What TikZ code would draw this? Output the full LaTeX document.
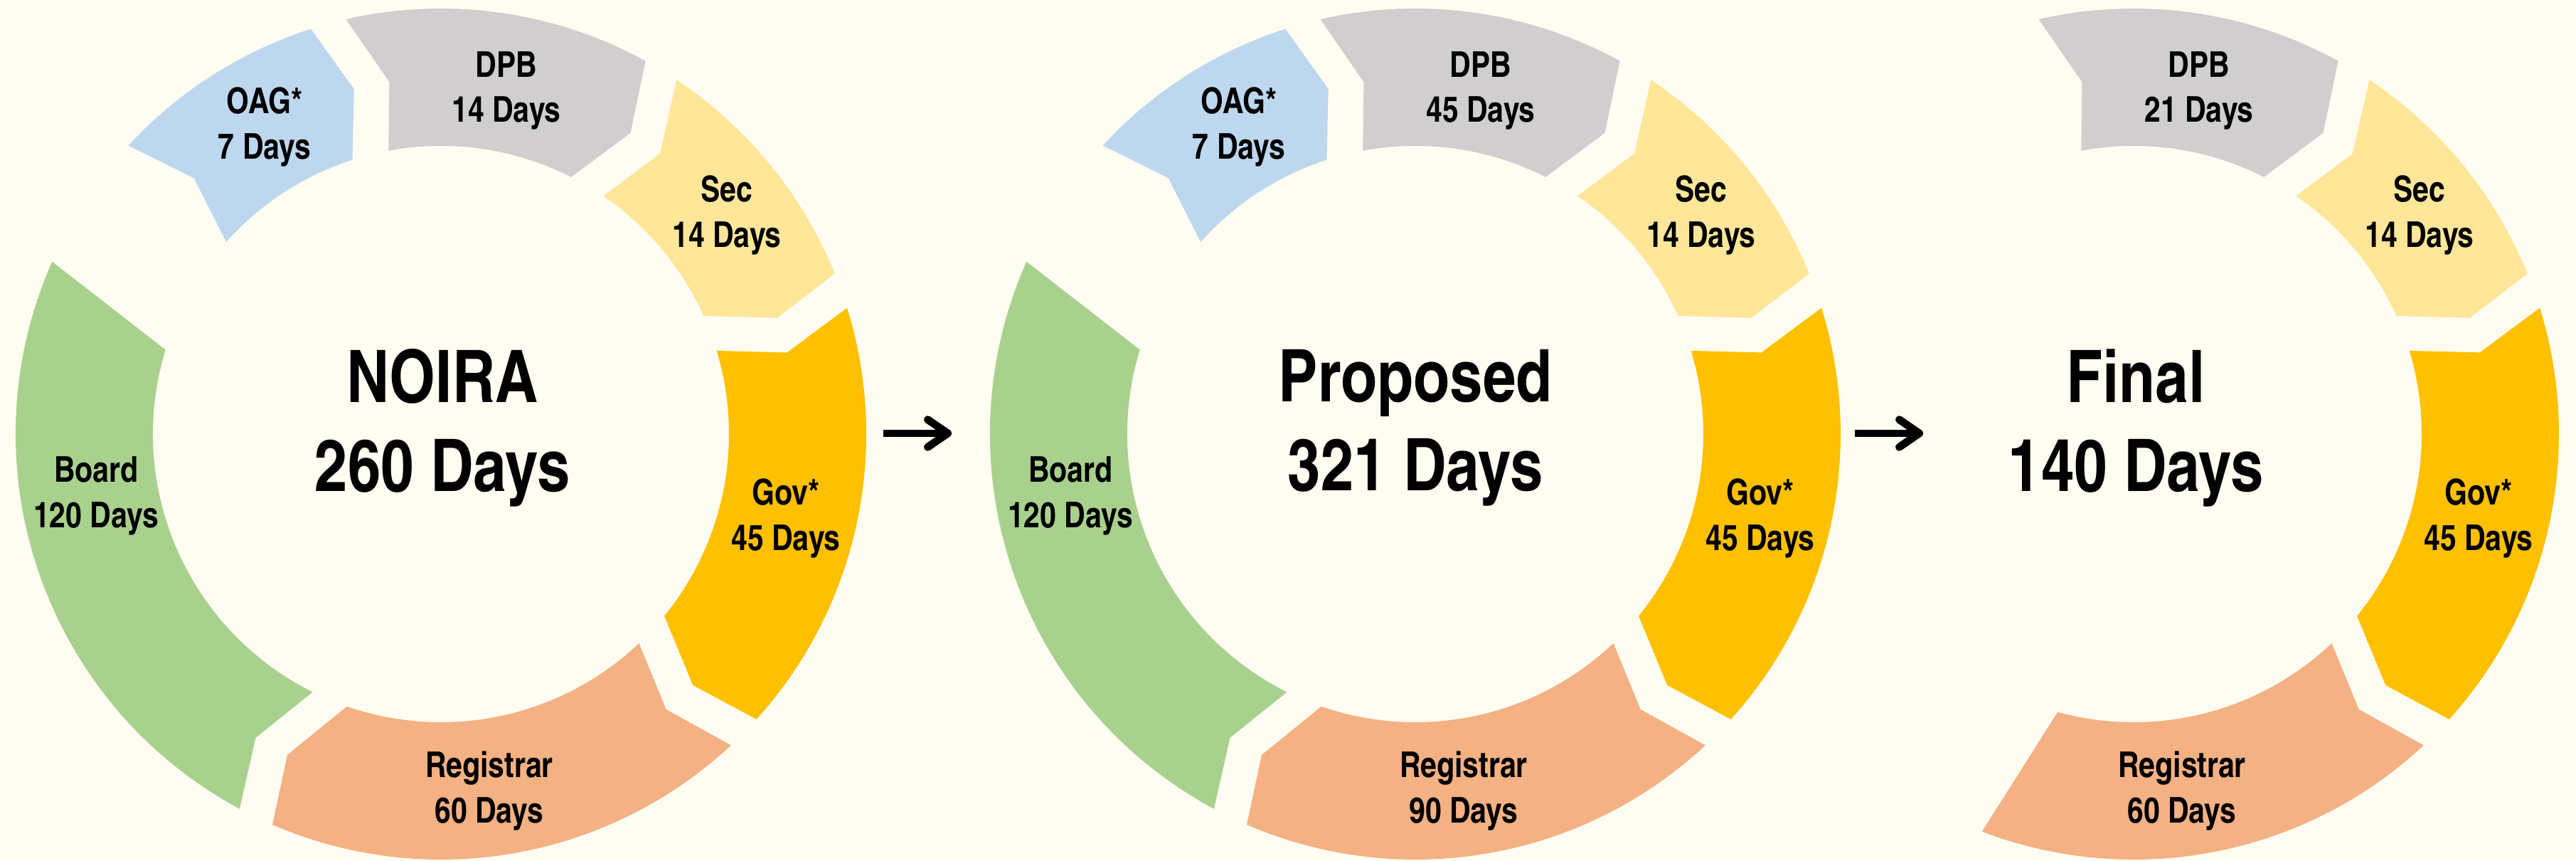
\documentclass[tikz,border=0pt]{standalone}
\usepackage{fontspec}
\setmainfont{texgyreheroscn}[Extension=.otf,UprightFont=*-regular,BoldFont=*-bold]
\usetikzlibrary{arrows.meta}

\definecolor{pagebg}{HTML}{FFFDF2}
\definecolor{oagblue}{HTML}{BDD7EE}
\definecolor{dpbgrey}{HTML}{D0CECE}
\definecolor{secyellow}{HTML}{FFE699}
\definecolor{govgold}{HTML}{FFC000}
\definecolor{regsalmon}{HTML}{F4B183}
\definecolor{boardgreen}{HTML}{A9D18E}

\newcommand{\segRo}{5.98}
\newcommand{\segRm}{5.0}
\newcommand{\segRi}{4.05}
% #1 centre, #2 colour, #3-#5 start edge (outer, middle, inner), #6-#8 end edge (inner, middle, outer)
\newcommand{\cycseg}[8]{%
  \fill [#2] ([shift={(#1)}]#3:\segRo) -- ([shift={(#1)}]#4:\segRm) -- ([shift={(#1)}]#5:\segRi)
    arc [start angle=#5, end angle=#6, radius=\segRi]
    -- ([shift={(#1)}]#7:\segRm) -- ([shift={(#1)}]#8:\segRo)
    arc [start angle=#8, end angle=#3, radius=\segRo] -- cycle;}

\begin{document}
\begin{tikzpicture}
    \tikzstyle{every node}+=[inner sep=0pt]
    \tikzstyle{seglabel}=[align=center, font=\fontsize{14.2}{18}\selectfont\bfseries]
    \tikzstyle{centretitle}=[align=center, font=\fontsize{29}{35.5}\selectfont\bfseries]
    \tikzstyle{stagearrow}=[line width=3.1pt, -{Straight Barb[length=8pt,width=11pt,round]}]
    \useasboundingbox (0,0) rectangle (36.22,12.09);
    \fill [pagebg] (0,0) rectangle (36.22,12.09);
    \coordinate (c1) at (6.20,5.99);
    \coordinate (c2) at (19.90,5.99);
    \coordinate (c3) at (30.00,5.99);
    % NOIRA
    \cycseg{c1}{oagblue}{137.3}{134.0}{138.2}{107.9}{104.15}{107.8}
    \cycseg{c1}{dpbgrey}{102.9}{98.35}{100.5}{63.1}{57.8}{61.25}
    \cycseg{c1}{secyellow}{56.35}{52.0}{55.7}{24.2}{19.05}{22.15}
    \cycseg{c1}{govgold}{17.25}{13.25}{16.8}{-39.15}{-44.9}{-42.1}
    \cycseg{c1}{regsalmon}{-47.0}{-50.7}{-46.55}{-109.05}{-115.6}{-113.35}
    \cycseg{c1}{boardgreen}{-118.25}{-121.4}{-116.45}{-197}{-201.1}{-203.9}
    \node [centretitle] (noira) at (6.22,6.075) {NOIRA\\260 Days};
    \node [seglabel] (noiraoag) at (3.72,10.305) {OAG*\\7 Days};
    \node [seglabel] (noiradpb) at (7.12,10.815) {DPB\\14 Days};
    \node [seglabel] (noirasec) at (10.22,9.065) {Sec\\14 Days};
    \node [seglabel] (noiragov) at (11.05,4.805) {Gov*\\45 Days};
    \node [seglabel] (noirareg) at (6.88,0.975) {Registrar\\60 Days};
    \node [seglabel] (noiraboard) at (1.35,5.12) {Board\\120 Days};
    % Proposed
    \cycseg{c2}{oagblue}{137.3}{134.0}{138.2}{107.9}{104.15}{107.8}
    \cycseg{c2}{dpbgrey}{102.9}{98.35}{100.5}{63.1}{57.8}{61.25}
    \cycseg{c2}{secyellow}{56.35}{52.0}{55.7}{24.2}{19.05}{22.15}
    \cycseg{c2}{govgold}{17.25}{13.25}{16.8}{-39.15}{-44.9}{-42.1}
    \cycseg{c2}{regsalmon}{-47.0}{-50.7}{-46.55}{-109.05}{-115.6}{-113.35}
    \cycseg{c2}{boardgreen}{-118.25}{-121.4}{-116.45}{-197}{-201.1}{-203.9}
    \node [centretitle] (proposed) at (19.90,6.075) {Proposed\\321 Days};
    \node [seglabel] (propoag) at (17.42,10.305) {OAG*\\7 Days};
    \node [seglabel] (propdpb) at (20.82,10.815) {DPB\\45 Days};
    \node [seglabel] (propsec) at (23.92,9.065) {Sec\\14 Days};
    \node [seglabel] (propgov) at (24.75,4.805) {Gov*\\45 Days};
    \node [seglabel] (propreg) at (20.58,0.975) {Registrar\\90 Days};
    \node [seglabel] (propboard) at (15.05,5.12) {Board\\120 Days};
    % Final
    \cycseg{c3}{dpbgrey}{102.9}{98.35}{100.5}{63.1}{57.8}{61.25}
    \cycseg{c3}{secyellow}{56.35}{52.0}{55.7}{24.2}{19.05}{22.15}
    \cycseg{c3}{govgold}{17.25}{13.25}{16.8}{-39.15}{-44.9}{-42.1}
    \cycseg{c3}{regsalmon}{-47.0}{-50.7}{-46.55}{-105.3}{-108.6}{-110.9}
    \node [centretitle] (final) at (30.03,6.075) {Final\\140 Days};
    \node [seglabel] (findpb) at (30.92,10.815) {DPB\\21 Days};
    \node [seglabel] (finsec) at (34.02,9.065) {Sec\\14 Days};
    \node [seglabel] (fingov) at (34.85,4.805) {Gov*\\45 Days};
    \node [seglabel] (finreg) at (30.68,0.975) {Registrar\\60 Days};
    % arrows between the stages
    \coordinate (arr1a) at (12.42,6.00);
    \coordinate (arr1b) at (13.38,6.00);
    \coordinate (arr2a) at (26.08,6.00);
    \coordinate (arr2b) at (27.04,6.00);
    \draw [stagearrow] (arr1a) -- (arr1b);
    \draw [stagearrow] (arr2a) -- (arr2b);
\end{tikzpicture}
\end{document}
